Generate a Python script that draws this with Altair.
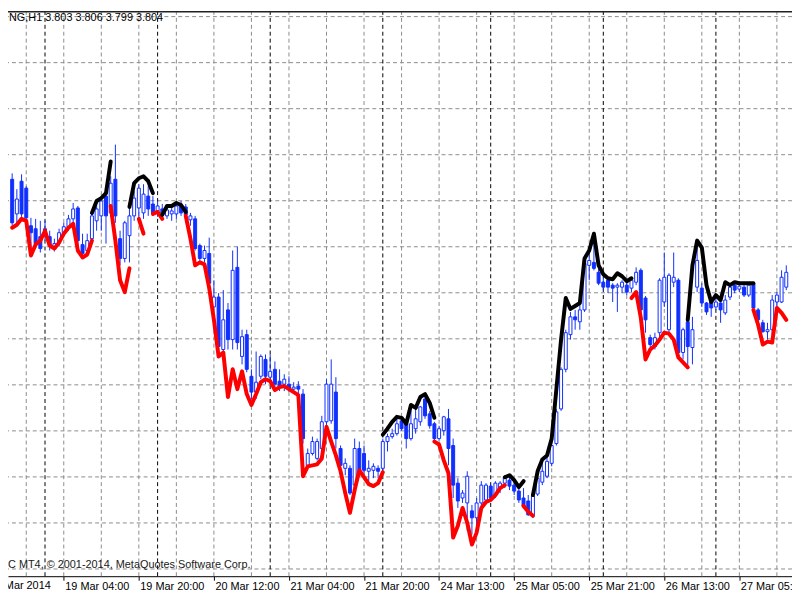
import altair as alt
import pandas as pd

# ---------------- data (hourly NG bars, bar index 0 = 19 Mar 04:00) ----------------
FIRST_BAR = -11

open_ = [
    4.522, 4.487, 4.520, 4.513, 4.475, 4.472, 4.464, 4.465, 4.464, 4.452,
    4.458, 4.468, 4.474, 4.482, 4.493, 4.456, 4.450, 4.462, 4.480, 4.485,
    4.505, 4.488, 4.522, 4.462, 4.442, 4.465, 4.485, 4.493, 4.488, 4.505,
    4.497, 4.490, 4.492, 4.485, 4.487, 4.487, 4.495, 4.494, 4.481, 4.482,
    4.455, 4.442, 4.447, 4.393, 4.403, 4.350, 4.390, 4.360, 4.433, 4.343,
    4.365, 4.323, 4.307, 4.323, 4.340, 4.322, 4.330, 4.318, 4.315, 4.315,
    4.310, 4.313, 4.305, 4.233, 4.245, 4.240, 4.250, 4.277, 4.278, 4.307,
    4.250, 4.230, 4.230, 4.213, 4.250, 4.245, 4.227, 4.228, 4.230, 4.230,
    4.257, 4.262, 4.265, 4.278, 4.275, 4.260, 4.270, 4.277, 4.300, 4.285,
    4.275, 4.260, 4.268, 4.280, 4.253, 4.215, 4.200, 4.195, 4.187, 4.180,
    4.195, 4.198, 4.212, 4.203, 4.210, 4.215, 4.218, 4.213, 4.207, 4.200,
    4.197, 4.183, 4.204, 4.216, 4.222, 4.235, 4.255, 4.290, 4.330, 4.365,
    4.383, 4.378, 4.390, 4.435, 4.438, 4.428, 4.418, 4.420, 4.415, 4.413,
    4.413, 4.415, 4.412, 4.418, 4.430, 4.402, 4.362, 4.353, 4.367, 4.398,
    4.370, 4.418, 4.420, 4.347, 4.378, 4.352, 4.413, 4.412, 4.397, 4.398,
    4.393, 4.397, 4.387, 4.403, 4.415, 4.411, 4.413, 4.405, 4.417, 4.390,
    4.377, 4.368, 4.370, 4.398, 4.398, 4.413,
]
close = [
    4.478, 4.502, 4.487, 4.483, 4.468, 4.457, 4.452, 4.472, 4.455, 4.457,
    4.468, 4.474, 4.482, 4.492, 4.460, 4.447, 4.460, 4.485, 4.492, 4.500,
    4.485, 4.518, 4.485, 4.442, 4.478, 4.485, 4.503, 4.513, 4.507, 4.492,
    4.488, 4.495, 4.487, 4.491, 4.490, 4.495, 4.488, 4.486, 4.485, 4.452,
    4.442, 4.450, 4.417, 4.403, 4.353, 4.380, 4.360, 4.430, 4.357, 4.363,
    4.330, 4.307, 4.317, 4.343, 4.323, 4.328, 4.315, 4.313, 4.320, 4.310,
    4.312, 4.310, 4.260, 4.245, 4.257, 4.257, 4.277, 4.315, 4.315, 4.260,
    4.233, 4.235, 4.205, 4.250, 4.228, 4.228, 4.230, 4.232, 4.227, 4.257,
    4.262, 4.265, 4.275, 4.270, 4.260, 4.275, 4.280, 4.292, 4.283, 4.273,
    4.260, 4.270, 4.282, 4.250, 4.213, 4.197, 4.205, 4.222, 4.180, 4.195,
    4.213, 4.213, 4.200, 4.215, 4.215, 4.220, 4.212, 4.207, 4.198, 4.192,
    4.183, 4.202, 4.220, 4.227, 4.237, 4.253, 4.287, 4.330, 4.367, 4.383,
    4.380, 4.390, 4.437, 4.440, 4.432, 4.417, 4.413, 4.413, 4.412, 4.415,
    4.418, 4.408, 4.420, 4.428, 4.390, 4.380, 4.355, 4.362, 4.420, 4.423,
    4.425, 4.423, 4.347, 4.370, 4.353, 4.370, 4.440, 4.397, 4.388, 4.392,
    4.398, 4.390, 4.400, 4.413, 4.410, 4.414, 4.405, 4.415, 4.392, 4.380,
    4.368, 4.370, 4.400, 4.405, 4.423, 4.428,
]
high = [
    4.528, 4.512, 4.527, 4.515, 4.483, 4.482, 4.480, 4.480, 4.470, 4.462,
    4.472, 4.478, 4.486, 4.498, 4.495, 4.467, 4.467, 4.488, 4.500, 4.504,
    4.513, 4.525, 4.557, 4.470, 4.480, 4.492, 4.510, 4.517, 4.517, 4.515,
    4.505, 4.500, 4.497, 4.495, 4.495, 4.500, 4.500, 4.497, 4.488, 4.485,
    4.457, 4.455, 4.463, 4.420, 4.407, 4.410, 4.397, 4.450, 4.454, 4.370,
    4.370, 4.330, 4.348, 4.345, 4.345, 4.345, 4.338, 4.330, 4.325, 4.323,
    4.317, 4.318, 4.310, 4.250, 4.262, 4.260, 4.283, 4.320, 4.340, 4.322,
    4.253, 4.240, 4.233, 4.260, 4.257, 4.253, 4.238, 4.235, 4.233, 4.260,
    4.265, 4.270, 4.282, 4.283, 4.280, 4.288, 4.293, 4.293, 4.305, 4.288,
    4.277, 4.273, 4.283, 4.290, 4.260, 4.220, 4.208, 4.227, 4.193, 4.200,
    4.217, 4.215, 4.214, 4.217, 4.217, 4.223, 4.222, 4.217, 4.210, 4.210,
    4.203, 4.205, 4.223, 4.237, 4.242, 4.257, 4.290, 4.332, 4.370, 4.388,
    4.390, 4.395, 4.440, 4.450, 4.465, 4.432, 4.423, 4.423, 4.417, 4.417,
    4.420, 4.417, 4.422, 4.433, 4.432, 4.404, 4.365, 4.367, 4.422, 4.448,
    4.427, 4.448, 4.422, 4.372, 4.382, 4.383, 4.453, 4.417, 4.398, 4.400,
    4.402, 4.400, 4.405, 4.415, 4.417, 4.417, 4.415, 4.417, 4.417, 4.392,
    4.380, 4.377, 4.405, 4.408, 4.430, 4.435,
]
low = [
    4.475, 4.478, 4.484, 4.479, 4.450, 4.453, 4.448, 4.460, 4.450, 4.449,
    4.454, 4.464, 4.470, 4.478, 4.455, 4.443, 4.446, 4.458, 4.470, 4.470,
    4.457, 4.484, 4.478, 4.435, 4.438, 4.438, 4.480, 4.483, 4.482, 4.485,
    4.485, 4.484, 4.482, 4.482, 4.480, 4.482, 4.485, 4.482, 4.475, 4.450,
    4.438, 4.438, 4.410, 4.390, 4.350, 4.340, 4.350, 4.350, 4.350, 4.335,
    4.327, 4.300, 4.300, 4.320, 4.315, 4.320, 4.308, 4.308, 4.308, 4.307,
    4.307, 4.305, 4.255, 4.230, 4.243, 4.238, 4.247, 4.273, 4.275, 4.250,
    4.227, 4.223, 4.203, 4.210, 4.223, 4.220, 4.217, 4.220, 4.220, 4.228,
    4.247, 4.260, 4.263, 4.268, 4.250, 4.258, 4.265, 4.273, 4.280, 4.270,
    4.258, 4.258, 4.263, 4.233, 4.200, 4.190, 4.195, 4.167, 4.163, 4.173,
    4.192, 4.195, 4.197, 4.200, 4.205, 4.210, 4.208, 4.203, 4.195, 4.190,
    4.182, 4.180, 4.202, 4.213, 4.220, 4.232, 4.253, 4.288, 4.327, 4.360,
    4.370, 4.370, 4.388, 4.420, 4.430, 4.415, 4.410, 4.407, 4.398, 4.388,
    4.407, 4.405, 4.408, 4.415, 4.387, 4.367, 4.352, 4.350, 4.362, 4.393,
    4.367, 4.413, 4.343, 4.340, 4.332, 4.335, 4.408, 4.393, 4.385, 4.383,
    4.390, 4.377, 4.385, 4.400, 4.407, 4.408, 4.403, 4.403, 4.388, 4.375,
    4.367, 4.360, 4.365, 4.393, 4.397, 4.410,
]

# indicator line: (first bar of segment, values)
red_segments = [
    (-11, [4.473, 4.476, 4.482, 4.480, 4.445, 4.456, 4.460, 4.470, 4.455, 4.452,
           4.458, 4.467, 4.473, 4.477, 4.450, 4.443, 4.446, 4.460]),
    (10, [4.495, 4.460, 4.420, 4.408, 4.432]),
    (16, [4.482, 4.467]),
    (19, [4.487, 4.489, 4.482]),
    (26, [4.485, 4.462, 4.435, 4.438, 4.436, 4.412, 4.380, 4.343, 4.347, 4.302,
          4.330, 4.310, 4.328, 4.305, 4.294, 4.305, 4.317, 4.320, 4.318, 4.309,
          4.312, 4.313, 4.310, 4.307, 4.304, 4.222, 4.232, 4.233, 4.234, 4.240,
          4.272, 4.257, 4.243, 4.227, 4.205, 4.185, 4.208, 4.228, 4.221, 4.214,
          4.212, 4.215, 4.226]),
    (79, [4.257, 4.254, 4.238, 4.225, 4.160, 4.172, 4.190, 4.175, 4.153, 4.165,
          4.190, 4.196, 4.198, 4.203, 4.210, 4.213]),
    (98, [4.192, 4.186, 4.182]),
    (121, [4.402, 4.408, 4.382, 4.340, 4.350, 4.354, 4.360, 4.367, 4.366, 4.360,
           4.342, 4.337, 4.332]),
    (147, [4.390, 4.375, 4.355, 4.358, 4.357, 4.392, 4.387, 4.380]),
]
black_segments = [
    (6, [4.488, 4.500, 4.503, 4.508, 4.540]),
    (14, [4.494, 4.518, 4.523, 4.525, 4.520, 4.508]),
    (21, [4.486, 4.495, 4.495, 4.498, 4.496, 4.489]),
    (68, [4.264, 4.270, 4.277, 4.282, 4.281, 4.275, 4.294, 4.291, 4.302, 4.305,
          4.296, 4.281]),
    (94, [4.221, 4.223, 4.218, 4.211, 4.217]),
    (100, [4.203, 4.227, 4.239, 4.243, 4.260, 4.310, 4.360, 4.402, 4.391, 4.394,
           4.397, 4.442, 4.450, 4.467, 4.435, 4.426, 4.422, 4.421, 4.427, 4.424,
           4.419, 4.422]),
    (133, [4.380, 4.435, 4.460, 4.453, 4.415, 4.398, 4.405, 4.400, 4.418, 4.415,
           4.418, 4.417, 4.417, 4.417, 4.417]),
]

label_bars = [0, 16, 32, 48, 64, 80, 96, 112, 128, 144]
label_texts = ["19 Mar 04:00", "19 Mar 20:00", "20 Mar 12:00",
               "21 Mar 04:00", "21 Mar 20:00", "24 Mar 13:00", "25 Mar 05:00",
               "25 Mar 21:00", "26 Mar 13:00", "27 Mar 05:00"]
first_label_bar = [-16]
first_label_text = ["18 Mar 2014"]
day_separator_bars = [-4, 20, 44, 68, 91, 115, 139]
grid_bars = [-8, 0, 8, 16, 24, 32, 40, 48, 56, 64, 72, 80, 88, 96, 104, 112,
             120, 128, 136, 144, 152]
price_grid = [4.6863, 4.6398, 4.5933, 4.5468, 4.5003, 4.4538, 4.4073, 4.3608,
              4.3143, 4.2678, 4.2213, 4.1748, 4.1283]

header_text = "NG,H1  3.803 3.806 3.799 3.804"
copyright_text = "C MT4, \u00a9 2001-2014, MetaQuotes Software Corp."

# ---------------- tables ----------------
n = len(open_)
bars = list(range(FIRST_BAR, FIRST_BAR + n))
candles = pd.DataFrame({"bar": bars, "open": open_, "high": high,
                        "low": low, "close": close})


def segments_to_frame(segs):
    rows = []
    for s, (start, vals) in enumerate(segs):
        for i, v in enumerate(vals):
            rows.append({"bar": start + i, "value": v, "seg": s})
    return pd.DataFrame(rows)


red_df = segments_to_frame(red_segments)
black_df = segments_to_frame(black_segments)

# ---------------- styling ----------------
W, H = 792, 571
BLUE = "#1030ff"
GRID = "#8c8c8c"
FONT = "Liberation Sans"
LABEL_BASE = 584  # baseline of the time labels (below the plot area)

x_scale = alt.Scale(domain=[-10.8333, 154.1667], nice=False, zero=False)
y_scale = alt.Scale(domain=[4.121, 4.692], nice=False, zero=False)

label_expr = " : ".join(f"datum.value == {b} ? '{t}'"
                        for b, t in zip(label_bars, label_texts)) + " : ''"

x_axis = alt.Axis(values=label_bars, labelExpr=label_expr, title=None, grid=False,
                  domain=True, domainColor="#000000", domainWidth=1,
                  ticks=True, tickSize=4, tickColor="#000000", tickWidth=1,
                  labelAlign="left", labelBaseline="alphabetic",
                  labelPadding=LABEL_BASE - H - 4,
                  labelFont=FONT, labelFontSize=11, labelColor="#000000",
                  labelOverlap=False, labelFlush=False, labelOffset=1)


def X():
    return alt.X("bar:Q", scale=x_scale, axis=x_axis)


hgrid = alt.Chart(pd.DataFrame({"price": price_grid})).mark_rule(
    color=GRID, strokeDash=[4, 3], strokeWidth=1
).encode(y=alt.Y("price:Q", scale=y_scale, axis=None))

vgrid = alt.Chart(pd.DataFrame({"bar": grid_bars})).mark_rule(
    color=GRID, strokeDash=[4, 3], strokeWidth=1
).encode(x=X())

seps = alt.Chart(pd.DataFrame({"bar": day_separator_bars})).mark_rule(
    color="#000000", strokeDash=[4, 3], strokeWidth=1
).encode(x=X())

wicks = alt.Chart(candles).mark_rule(color=BLUE, strokeWidth=1).encode(
    x=X(),
    y=alt.Y("low:Q", scale=y_scale, axis=None),
    y2="high:Q",
)

bodies = alt.Chart(candles).mark_bar(size=3, stroke=BLUE, strokeWidth=1).encode(
    x=X(),
    y=alt.Y("open:Q", scale=y_scale, axis=None),
    y2="close:Q",
    fill=alt.condition("datum.close >= datum.open", alt.value("#ffffff"), alt.value(BLUE)),
)

red_line = alt.Chart(red_df).mark_line(
    color="#ff0000", strokeWidth=4, strokeJoin="round", strokeCap="round"
).encode(
    x=X(),
    y=alt.Y("value:Q", scale=y_scale, axis=None),
    detail="seg:N",
    order=alt.Order("bar:Q"),
)

black_line = alt.Chart(black_df).mark_line(
    color="#000000", strokeWidth=4, strokeJoin="round", strokeCap="round"
).encode(
    x=X(),
    y=alt.Y("value:Q", scale=y_scale, axis=None),
    detail="seg:N",
    order=alt.Order("bar:Q"),
)

first_label = alt.Chart(pd.DataFrame({"bar": first_label_bar, "label": first_label_text})).mark_text(
    align="left", baseline="alphabetic", font=FONT, fontSize=11, color="#000000", dx=1
).encode(x=X(), y=alt.value(LABEL_BASE), text="label:N")

one = alt.Data(values=[{}])

header = alt.Chart(one).mark_text(
    align="left", baseline="alphabetic", font=FONT, fontSize=11, color="#000000"
).encode(x=alt.value(1), y=alt.value(10), text=alt.value(header_text))

copyright_mark = alt.Chart(one).mark_text(
    align="left", baseline="alphabetic", font=FONT, fontSize=11, color="#202020"
).encode(x=alt.value(0), y=alt.value(563), text=alt.value(copyright_text))

top_rule = alt.Chart(one).mark_rule(color="#222222", strokeWidth=1.5).encode(
    x=alt.value(0), x2=alt.value(W), y=alt.value(0.75)
)

chart = alt.layer(
    hgrid, vgrid, seps, wicks, bodies, red_line, black_line,
    first_label, header, copyright_mark, top_rule,
).properties(
    width=W, height=H,
    autosize=alt.AutoSizeParams(type="none"),
    padding={"left": 0, "right": 0, "top": 0, "bottom": 17},
).configure_view(stroke=None)

chart.save("out.html", embed_options={"renderer": "svg", "actions": False})
